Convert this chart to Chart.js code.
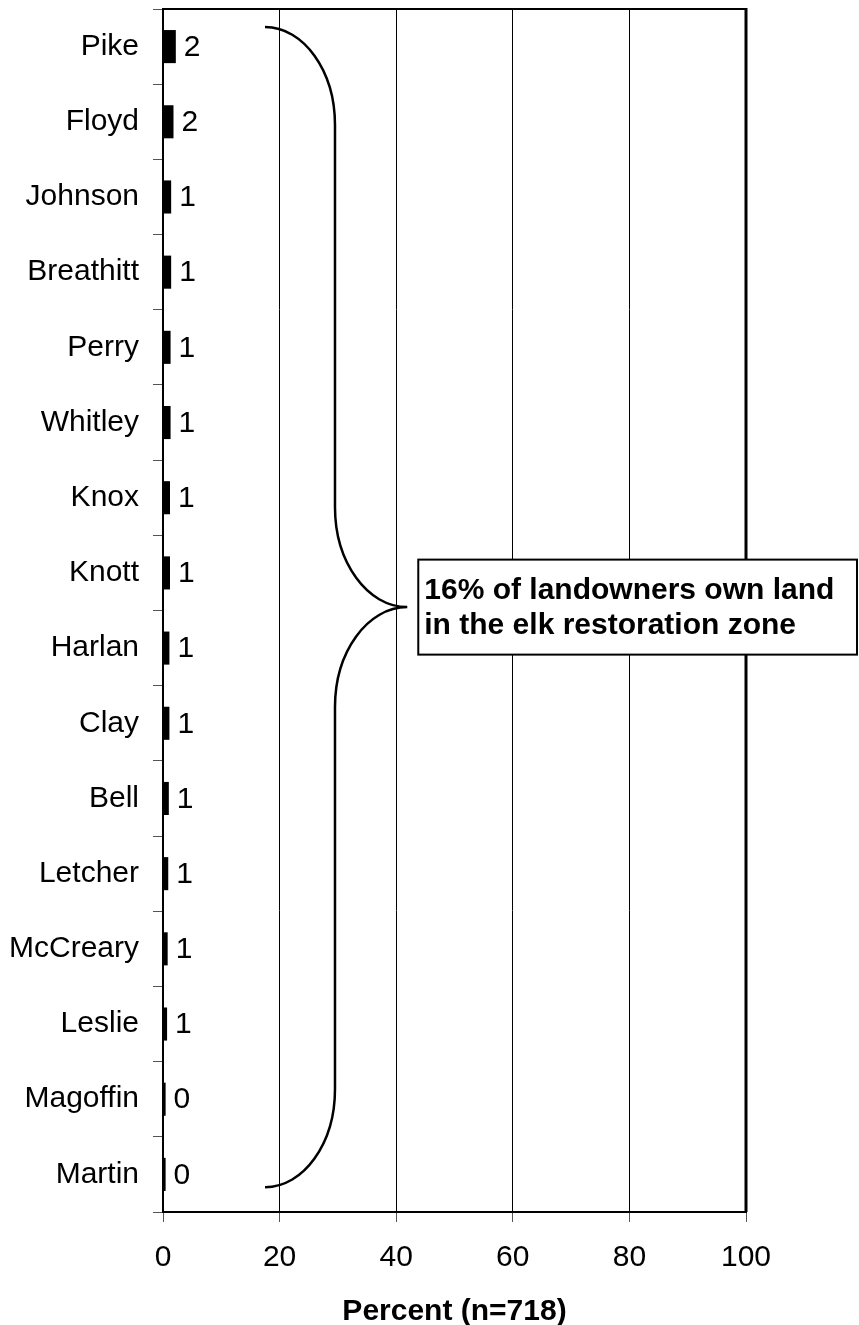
<!DOCTYPE html>
<html>
<head>
<meta charset="utf-8">
<script src="https://cdn.jsdelivr.net/npm/chart.js@4.4.1/dist/chart.umd.min.js"></script>
<style>
  html, body { margin: 0; padding: 0; background: #fff; }
  #wrap { position: relative; width: 859px; height: 1325px; }
</style>
</head>
<body>
<div id="wrap"><canvas id="countyChart"></canvas></div>
<script>
// Counties, top to bottom
const counties = ['Pike', 'Floyd', 'Johnson', 'Breathitt', 'Perry', 'Whitley', 'Knox', 'Knott',
                  'Harlan', 'Clay', 'Bell', 'Letcher', 'McCreary', 'Leslie', 'Magoffin', 'Martin'];
// Percent of landowners owning land in each county
const percents = [2.2, 1.8, 1.4, 1.4, 1.3, 1.3, 1.2, 1.2, 1.1, 1.1, 1.0, 0.9, 0.8, 0.7, 0.45, 0.45];
const xTicks = [0, 20, 40, 60, 80, 100];
const xTitle = 'Percent (n=718)';
const noteLines = ['16% of landowners own land', 'in the elk restoration zone'];

const FONT = "'Liberation Sans', Arial, sans-serif";

// bracket spanning all counties, in axis units
const brace = { fromIdx: -0.26, toIdx: 15.17, tipX: 17.5, stemX: 29.5, pointX: 41.9 };

const extrasPlugin = {
    id: 'extras',
    afterDatasetsDraw(chart) {
        const ctx = chart.ctx;
        const area = chart.chartArea;
        const xs = chart.scales.x;
        const ys = chart.scales.y;

        // value labels next to bars
        const meta = chart.getDatasetMeta(0);
        ctx.save();
        ctx.fillStyle = '#000';
        ctx.font = '30px ' + FONT;
        ctx.textAlign = 'left';
        ctx.textBaseline = 'middle';
        meta.data.forEach((bar, i) => {
            ctx.fillText(String(Math.round(percents[i])), bar.x + 8, bar.y + 1);
        });
        ctx.restore();

        // top and right frame
        ctx.save();
        ctx.strokeStyle = '#000';
        ctx.lineWidth = 2;
        ctx.beginPath();
        ctx.moveTo(area.left, area.top);
        ctx.lineTo(area.right, area.top);
        ctx.stroke();
        ctx.lineWidth = 3;
        ctx.beginPath();
        ctx.moveTo(area.right, area.top - 1);
        ctx.lineTo(area.right, area.bottom);
        ctx.stroke();
        ctx.restore();

        // curly brace
        const yTop = ys.getPixelForValue(brace.fromIdx);
        const yBot = ys.getPixelForValue(brace.toIdx);
        const yMid = (yTop + yBot) / 2;
        const xTip = xs.getPixelForValue(brace.tipX);
        const xStem = xs.getPixelForValue(brace.stemX);
        const xPoint = xs.getPixelForValue(brace.pointX);
        const k = 0.5523;
        const rx1 = xStem - xTip, ry1 = 98;
        const rx2 = xPoint - xStem, ry2 = 100;
        ctx.save();
        ctx.strokeStyle = '#000';
        ctx.lineWidth = 2.5;
        ctx.beginPath();
        ctx.moveTo(xTip, yTop);
        ctx.bezierCurveTo(xTip + k * rx1, yTop, xStem, yTop + ry1 - k * ry1, xStem, yTop + ry1);
        ctx.lineTo(xStem, yMid - ry2);
        ctx.bezierCurveTo(xStem, yMid - ry2 + k * ry2, xPoint - k * rx2, yMid, xPoint, yMid);
        ctx.bezierCurveTo(xPoint - k * rx2, yMid, xStem, yMid + ry2 - k * ry2, xStem, yMid + ry2);
        ctx.lineTo(xStem, yBot - ry1);
        ctx.bezierCurveTo(xStem, yBot - ry1 + k * ry1, xTip + k * rx1, yBot, xTip, yBot);
        ctx.stroke();
        ctx.restore();

        // note box
        const bx = xPoint + 11, bh = 95;
        const by = yMid - bh / 2;
        const bw = chart.width - 2 - bx;
        ctx.save();
        ctx.fillStyle = '#fff';
        ctx.fillRect(bx, by, bw, bh);
        ctx.strokeStyle = '#000';
        ctx.lineWidth = 2;
        ctx.strokeRect(bx, by, bw, bh);
        ctx.fillStyle = '#000';
        ctx.font = 'bold 30px ' + FONT;
        ctx.textAlign = 'left';
        ctx.textBaseline = 'alphabetic';
        ctx.fillText(noteLines[0], bx + 6, by + 39);
        ctx.fillText(noteLines[1], bx + 6, by + 74);
        ctx.restore();
    }
};

const ctx = document.getElementById('countyChart').getContext('2d');
const countyChart = new Chart(ctx, {
    type: 'bar',
    data: {
        labels: counties,
        datasets: [{
            data: percents,
            backgroundColor: '#000',
            borderWidth: 0,
            barPercentage: 0.44,
            categoryPercentage: 1
        }]
    },
    options: {
        indexAxis: 'y',
        responsive: true,
        maintainAspectRatio: false,
        animation: false,
        layout: { padding: { top: 9, right: 113, bottom: 0, left: 0 } },
        plugins: {
            legend: { display: false },
            tooltip: { enabled: false }
        },
        scales: {
            x: {
                min: 0,
                max: 100,
                afterBuildTicks(scale) {
                    scale.ticks = xTicks.map(v => ({ value: v }));
                },
                afterFit(scale) { scale.height = 113; },
                ticks: {
                    color: '#000',
                    font: { family: FONT, size: 30 },
                    padding: 18,
                    maxRotation: 0
                },
                grid: {
                    color: '#000',
                    lineWidth: 1,
                    tickLength: 10,
                    tickColor: '#555'
                },
                border: { color: '#000', width: 2 },
                title: {
                    display: true,
                    text: xTitle,
                    color: '#000',
                    font: { family: FONT, size: 30, weight: 'bold', lineHeight: 1 },
                    padding: { top: 0, bottom: -2 }
                }
            },
            y: {
                afterFit(scale) {
                    scale.width = 163;
                    // keep the plot flush with the top padding
                    scale.paddingTop = 0;
                    scale.paddingBottom = 0;
                },
                ticks: {
                    color: '#000',
                    font: { family: FONT, size: 30 },
                    padding: 14
                },
                grid: {
                    drawOnChartArea: false,
                    offset: true,
                    tickLength: 10,
                    color: '#555'
                },
                border: { color: '#000', width: 2 }
            }
        }
    },
    plugins: [extrasPlugin]
});
</script>
</body>
</html>
